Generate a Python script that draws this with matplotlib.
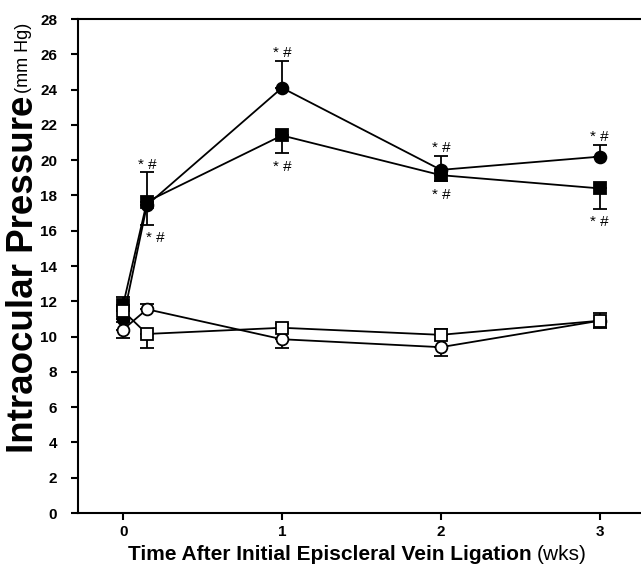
import matplotlib
matplotlib.use("Agg")
import matplotlib.pyplot as plt
import numpy as np

plt.rcParams['font.family'] = ['Liberation Sans', 'DejaVu Sans']

# weeks after ligation
weeks = [0, 0.15, 1, 2, 3]

# filled circle series
fc_mean = [11.0, 17.45, 24.1, 19.45, 20.2]
fc_err_lo = [0.2, 1.1, 0, 0, 0]
fc_err_hi = [0, 0, 1.5, 0.8, 0.65]

# filled square series
fs_mean = [11.8, 17.65, 21.4, 19.15, 18.4]
fs_err_lo = [0, 0, 1.0, 0.35, 1.15]
fs_err_hi = [0.45, 1.7, 0, 0, 0]

# open circle series
oc_mean = [10.4, 11.55, 9.85, 9.4, 10.9]
oc_err_lo = [0.5, 0, 0.5, 0.5, 0.4]
oc_err_hi = [0, 0.3, 0, 0, 0]

# open square series
os_mean = [11.45, 10.15, 10.5, 10.1, 10.9]
os_err_lo = [0, 0.8, 0, 0, 0]
os_err_hi = [0.3, 0, 0.2, 0.35, 0.45]

# "* #" significance marks (x, y)
sig_x = [0.15, 0.2, 1, 1, 2, 2, 3, 3]
sig_y = [19.7, 15.6, 26.1, 19.6, 20.7, 18.0, 21.3, 16.5]

fig = plt.figure(figsize=(6.41, 5.68), dpi=100)
ax = fig.add_axes([0.1217, 0.0968, 0.8783, 0.8697])

def draw(mean, lo, hi, marker, face, z):
    ax.errorbar(weeks, mean, yerr=[lo, hi], color='black', marker=marker,
                markersize=8.5, markerfacecolor=face, markeredgecolor='black',
                markeredgewidth=1.3, linewidth=1.3, elinewidth=1.3,
                capsize=5, capthick=1.3, zorder=z)

draw(fc_mean, fc_err_lo, fc_err_hi, 'o', 'black', 3)
draw(fs_mean, fs_err_lo, fs_err_hi, 's', 'black', 3)
draw(oc_mean, oc_err_lo, oc_err_hi, 'o', 'white', 4)
draw(os_mean, os_err_lo, os_err_hi, 's', 'white', 4)

for x, y in zip(sig_x, sig_y):
    ax.text(x, y, '* #', ha='center', va='center', fontsize=11)

ax.set_xlim(-0.284, 3.26)
ax.set_ylim(0, 28)
ax.set_xticks([0, 1, 2, 3])
ax.set_yticks(range(0, 29, 2))
ax.tick_params(direction='out', length=5, width=1.5, labelsize=11)
ax.tick_params(axis='y', pad=10)
for lab in ax.get_xticklabels() + ax.get_yticklabels():
    lab.set_fontweight('bold')
ax.spines['right'].set_visible(False)
for s in ['left', 'bottom', 'top']:
    ax.spines[s].set_linewidth(1.5)

# axis titles: bold part followed by regular units
fig.canvas.draw()
r = fig.canvas.get_renderer()
t1 = fig.text(128 / 641, 1 - 560 / 568, 'Time After Initial Episcleral Vein Ligation',
              fontsize=15, fontweight='bold', ha='left', va='baseline')
bb = t1.get_window_extent(r)
fig.text((bb.x1 + 5) / 641, 1 - 560 / 568, '(wks)', fontsize=15,
         ha='left', va='baseline')

t2 = fig.text(24 / 641, 1 - 453 / 568, 'Intraocular Pressure', fontsize=26.5,
              fontweight='bold', rotation=90, ha='center', va='bottom')
bb = t2.get_window_extent(r)
fig.text(24 / 641, (bb.y1 + 3) / 568, '(mm Hg)', fontsize=13, rotation=90,
         ha='center', va='bottom')

fig.savefig('out.png', dpi=100)
